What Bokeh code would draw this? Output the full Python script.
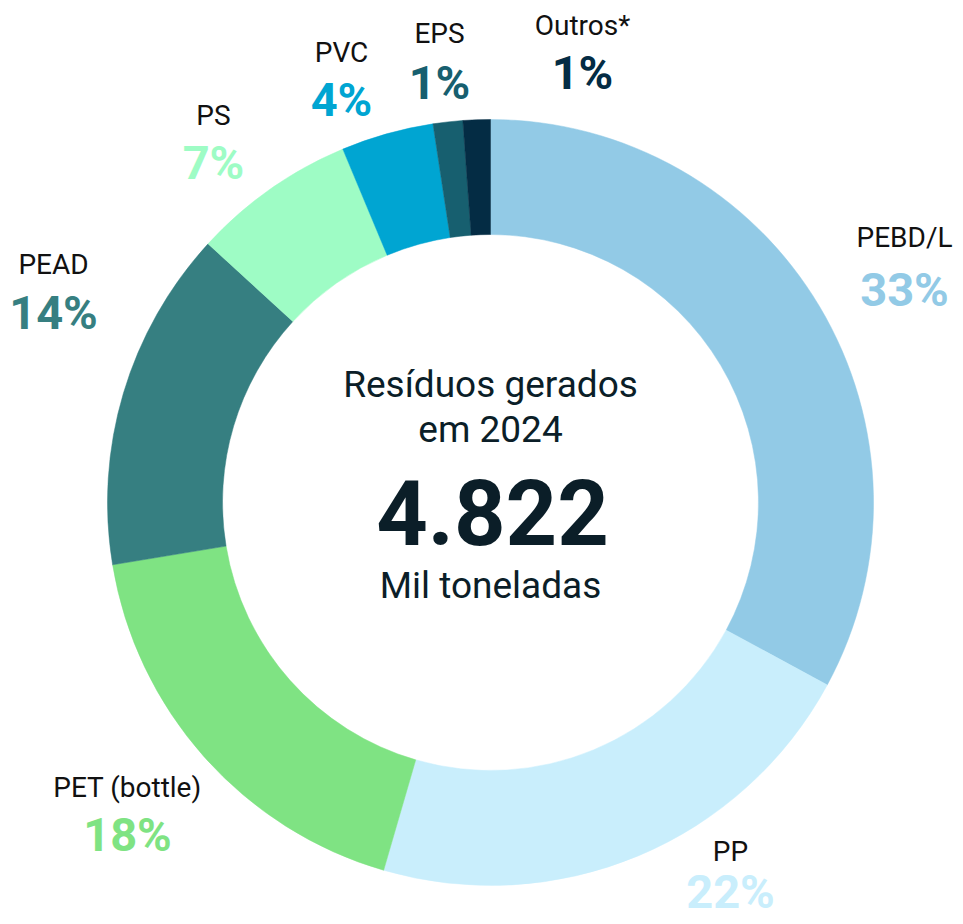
from bokeh.plotting import figure
from bokeh.models import Range1d, ColumnDataSource
from bokeh.core.properties import value
from bokeh.embed import file_html
from bokeh.resources import INLINE
import math

# ---- data ----
categories = ["PEBD/L", "PP", "PET (bottle)", "PEAD", "PS", "PVC", "EPS", "Outros*"]
shares = [32.9, 21.6, 17.9, 14.4, 6.9, 3.9, 1.25, 1.15]
pct_labels = ["33%", "22%", "18%", "14%", "7%", "4%", "1%", "1%"]
colors = ["#92CAE6", "#C9EEFC", "#7FE383", "#367F81", "#9EFCC5", "#00A5D2", "#175F6F", "#042C44"]
total_label = "4.822"
title_lines = ["Resíduos gerados", "em 2024"]
unit_label = "Mil toneladas"

# ---- layout (page pixels, y downward) ----
W, H = 955, 918
cx, cy = 490, 502
r_out, r_in = 383, 268
label_x = [904, 730, 127, 53, 213, 341, 439, 582]
name_base = [247, 861, 797, 274, 125, 62, 43, 35]
pct_base = [305, 907, 850, 328, 178, 115, 98, 88]
K = 0.35  # baseline correction (fraction of font size)

NAME_FS, PCT_FS, MID_FS, BIG_FS = 28, 47, 37, 90


def yb(b, fs):
    return -(b - K * fs)


p = figure(width=W, height=H, output_backend="svg", toolbar_location=None,
           x_range=Range1d(0, W), y_range=Range1d(-H, 0),
           x_axis_type=None, y_axis_type=None, min_border=0)
p.grid.visible = False
p.outline_line_color = None
p.background_fill_color = "white"
p.border_fill_color = "white"

tot = sum(shares)
starts, ends = [], []
cum = 0.0
for s in shares:
    a0 = math.pi / 2 - 2 * math.pi * cum / tot
    cum += s
    a1 = math.pi / 2 - 2 * math.pi * cum / tot
    starts.append(a1)
    ends.append(a0)

src = ColumnDataSource(dict(start=starts, end=ends, color=colors, cat=categories))
p.annular_wedge(x=cx, y=-cy, inner_radius=r_in, outer_radius=r_out,
                start_angle="start", end_angle="end", fill_color="color",
                line_color="color", line_width=0.5, source=src)

font = value("Roboto")
lsrc = ColumnDataSource(dict(x=label_x,
                             yn=[yb(v, NAME_FS) for v in name_base],
                             yp=[yb(v, PCT_FS) for v in pct_base],
                             name=categories, pct=pct_labels, color=colors))
p.text(x="x", y="yn", text="name", source=lsrc, text_font=font, text_font_size=f"{NAME_FS}px",
       text_color="#111111", text_align="center", text_baseline="alphabetic")
p.text(x="x", y="yp", text="pct", source=lsrc, text_font=font, text_font_size=f"{PCT_FS}px",
       text_font_style="bold", text_color="color", text_align="center", text_baseline="alphabetic")

dark = "#0B1E28"
p.text(x=[cx], y=[yb(397, MID_FS)], text=[title_lines[0]], text_font=font, text_font_size=f"{MID_FS}px",
       text_color=dark, text_align="center", text_baseline="alphabetic")
p.text(x=[cx], y=[yb(442, MID_FS)], text=[title_lines[1]], text_font=font, text_font_size=f"{MID_FS}px",
       text_color=dark, text_align="center", text_baseline="alphabetic")
p.text(x=[cx + 2], y=[yb(543, BIG_FS)], text=[total_label], text_font=font, text_font_size=f"{BIG_FS}px",
       text_font_style="bold", text_color=dark, text_align="center", text_baseline="alphabetic")
p.text(x=[cx], y=[yb(598, MID_FS)], text=[unit_label], text_font=font, text_font_size=f"{MID_FS}px",
       text_color=dark, text_align="center", text_baseline="alphabetic")

open("out.html", "w").write(file_html(p, INLINE))
